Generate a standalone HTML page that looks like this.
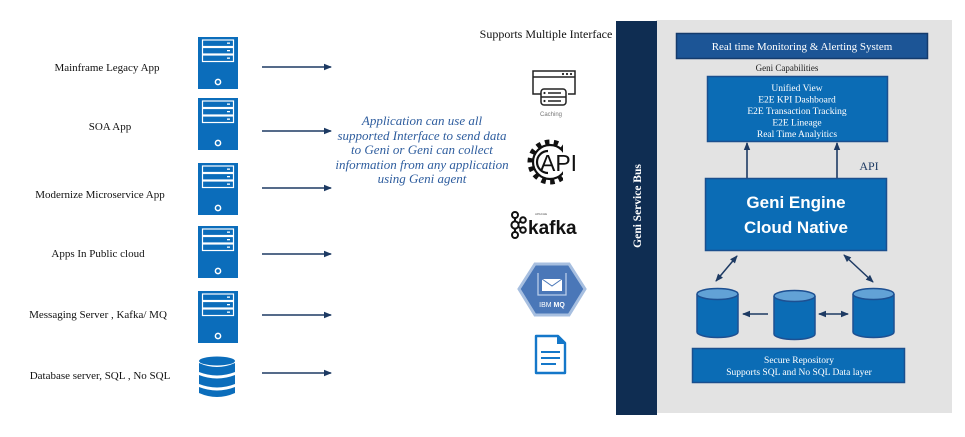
<!DOCTYPE html>
<html><head><meta charset="utf-8">
<style>
html,body{margin:0;padding:0;background:#fff;}
svg{display:block;}
</style></head>
<body>
<svg width="965" height="437" viewBox="0 0 965 437" xmlns="http://www.w3.org/2000/svg">
<defs>
<marker id="ah" markerWidth="8" markerHeight="8" refX="7" refY="4" orient="auto" markerUnits="userSpaceOnUse">
<path d="M0,0.8 L8,4 L0,7.2 z" fill="#1d3a63"/>
</marker>
<marker id="ahs" markerWidth="8" markerHeight="8" refX="7" refY="4" orient="auto-start-reverse" markerUnits="userSpaceOnUse">
<path d="M0,0.8 L8,4 L0,7.2 z" fill="#1d3a63"/>
</marker>
<g id="srv">
<rect x="0" y="0" width="40" height="52" fill="#0b6dbb"/>
<rect x="4.5" y="3" width="31" height="6.5" fill="none" stroke="#fff" stroke-width="1.2"/>
<rect x="4.5" y="10.5" width="31" height="6.5" fill="none" stroke="#fff" stroke-width="1.2"/>
<rect x="4.5" y="18" width="31" height="6.5" fill="none" stroke="#fff" stroke-width="1.2"/>
<rect x="29" y="5.5" width="3" height="1.3" fill="#fff"/>
<rect x="29" y="13" width="3" height="1.3" fill="#fff"/>
<rect x="29" y="20.5" width="3" height="1.3" fill="#fff"/>
<circle cx="20" cy="45" r="2.6" fill="none" stroke="#fff" stroke-width="1.5"/>
</g>
<g id="cyl">
<path d="M0,6 L0,44 A20.5,5.5 0 0 0 41,44 L41,6" fill="#0b6cb5" stroke="#1d5092" stroke-width="1.5"/>
<ellipse cx="20.5" cy="6" rx="20.5" ry="5.5" fill="#62a2d6" stroke="#1d5092" stroke-width="1.5"/>
</g>
</defs>

<!-- Left labels -->
<g font-family="Liberation Serif, serif" font-size="11" fill="#111" text-anchor="middle">
<text x="107" y="71">Mainframe Legacy App</text>
<text x="110" y="130">SOA App</text>
<text x="100" y="198">Modernize Microservice App</text>
<text x="98" y="257">Apps In Public cloud</text>
<text x="98" y="318">Messaging Server , Kafka/ MQ</text>
<text x="100" y="379">Database server, SQL , No SQL</text>
</g>

<!-- servers -->
<use href="#srv" x="198" y="37"/>
<use href="#srv" x="198" y="98"/>
<use href="#srv" x="198" y="163"/>
<use href="#srv" x="198" y="226"/>
<use href="#srv" x="198" y="291"/>

<!-- database icon -->
<g fill="#0b6dbb">
<ellipse cx="217" cy="361" rx="18" ry="4.5"/>
<path d="M199,363 Q217,371 235,363 L235,372 Q217,379 199,372 z"/>
<path d="M199,375 Q217,382 235,375 L235,384 Q217,391 199,384 z"/>
<path d="M199,387 Q217,394 235,387 L235,393 Q217,401 199,393 z"/>
</g>

<!-- left arrows -->
<g stroke="#1d3a63" stroke-width="1.5" marker-end="url(#ah)">
<line x1="262" y1="67" x2="331" y2="67"/>
<line x1="262" y1="131" x2="331" y2="131"/>
<line x1="262" y1="188" x2="331" y2="188"/>
<line x1="262" y1="254" x2="331" y2="254"/>
<line x1="262" y1="315" x2="331" y2="315"/>
<line x1="262" y1="373" x2="331" y2="373"/>
</g>

<!-- middle italic text -->
<g font-family="Liberation Serif, serif" font-style="italic" font-size="13" fill="#2e5d9e" text-anchor="middle">
<text x="422" y="125">Application can use all</text>
<text x="422" y="140">supported Interface to send data</text>
<text x="422" y="154">to Geni or Geni can collect</text>
<text x="422" y="169">information from any application</text>
<text x="422" y="183">using Geni agent</text>
</g>

<text x="546" y="38" font-family="Liberation Serif, serif" font-size="12" fill="#111" text-anchor="middle">Supports Multiple Interface</text>

<!-- caching icon -->
<g fill="none" stroke="#222" stroke-width="1.5">
<path d="M546,94 L533,94 L533,71 L575,71 L575,94 L568,94"/>
<line x1="533" y1="77" x2="575" y2="77"/>
<rect x="541" y="89" width="25" height="16" rx="3" fill="#fff"/>
<line x1="541" y1="97" x2="566" y2="97"/>
<line x1="548" y1="93" x2="561" y2="93"/>
<line x1="548" y1="101" x2="561" y2="101"/>
</g>
<circle cx="563" cy="74" r="1.1" fill="#222"/><circle cx="567" cy="74" r="1.1" fill="#222"/><circle cx="571" cy="74" r="1.1" fill="#222"/>
<circle cx="544.5" cy="93" r="1.1" fill="#222"/><circle cx="544.5" cy="101" r="1.1" fill="#222"/>
<text x="551" y="116" font-family="Liberation Sans, sans-serif" font-size="6" fill="#777" text-anchor="middle">Caching</text>

<!-- API gear -->
<g>
<circle cx="550" cy="162" r="20" fill="none" stroke="#111" stroke-width="5" stroke-dasharray="4.5 4.4"/>
<circle cx="550" cy="162" r="17" fill="#fff" stroke="#111" stroke-width="2.2"/>
<rect x="563" y="144" width="22" height="36" fill="#fff"/>
<path d="M548,151 A11,11 0 0 0 548,173" fill="none" stroke="#111" stroke-width="2.2"/>
<text x="540" y="171" font-family="Liberation Sans, sans-serif" font-size="23" fill="#111">API</text>
</g>

<!-- kafka -->
<g fill="none" stroke="#111" stroke-width="2">
<circle cx="515" cy="215" r="3"/><circle cx="515" cy="225" r="3.6"/><circle cx="515" cy="235" r="3"/>
<circle cx="523" cy="220" r="2.8"/><circle cx="523" cy="230" r="2.8"/>
<line x1="515" y1="218" x2="515" y2="221.5"/><line x1="515" y1="228.5" x2="515" y2="232"/>
<line x1="518" y1="223.5" x2="520.5" y2="221.5"/><line x1="518" y1="226.5" x2="520.5" y2="228.5"/>
</g>
<text x="528" y="234" font-family="Liberation Sans, sans-serif" font-weight="bold" font-size="19" fill="#111">kafka</text>
<text x="535" y="215" font-family="Liberation Sans, sans-serif" font-size="3" fill="#555">APACHE</text>

<!-- IBM MQ -->
<polygon points="535,264 569,264 585,289 569,315 535,315 519,289" fill="#4a77b8" stroke="#a7bfe0" stroke-width="3"/>
<path d="M538,273 L538,295 L566,295 L566,273" fill="none" stroke="#b8cdea" stroke-width="1.3"/>
<rect x="542" y="279" width="20" height="12" fill="#fff"/>
<path d="M542,279 L552,286 L562,279" fill="none" stroke="#4a77b8" stroke-width="1"/>
<text x="552" y="307" font-family="Liberation Sans, sans-serif" font-size="7" fill="#fff" text-anchor="middle">IBM <tspan font-weight="bold">MQ</tspan></text>

<!-- document -->
<path d="M536,336 L558,336 L565,343 L565,373 L536,373 z" fill="#fff" stroke="#1477c9" stroke-width="2.4" stroke-linejoin="round"/>
<path d="M557,336 L557,344 L565,344" fill="#1477c9"/>
<line x1="541" y1="352" x2="560" y2="352" stroke="#1477c9" stroke-width="2"/>
<line x1="541" y1="358" x2="560" y2="358" stroke="#1477c9" stroke-width="2"/>
<line x1="541" y1="364" x2="556" y2="364" stroke="#1477c9" stroke-width="2"/>

<!-- grey panel -->
<rect x="656" y="20" width="296" height="393" fill="#e3e3e3"/>
<!-- service bus -->
<rect x="616" y="21" width="41" height="394" fill="#0f2d52"/>
<text transform="translate(641,206) rotate(-90)" font-family="Liberation Serif, serif" font-weight="bold" font-size="11.5" fill="#fff" text-anchor="middle">Geni Service Bus</text>

<!-- monitoring -->
<rect x="676.5" y="33.5" width="251" height="25" fill="#1c5596" stroke="#143b6c" stroke-width="1.5"/>
<text x="802" y="50" font-family="Liberation Serif, serif" font-size="11" fill="#fff" text-anchor="middle">Real time Monitoring &amp; Alerting System</text>

<text x="787" y="71" font-family="Liberation Serif, serif" font-size="9" fill="#222" text-anchor="middle">Geni Capabilities</text>

<rect x="707.5" y="76.5" width="180" height="65" fill="#0b6cb5" stroke="#1a4f8e" stroke-width="1.5"/>
<g font-family="Liberation Serif, serif" font-size="9.5" fill="#fff" text-anchor="middle">
<text x="797" y="91">Unified View</text>
<text x="797" y="102.5">E2E KPI Dashboard</text>
<text x="797" y="114">E2E Transaction Tracking</text>
<text x="797" y="125.5">E2E Lineage</text>
<text x="797" y="137">Real Time Analyitics</text>
</g>

<!-- up arrows -->
<g stroke="#1d3a63" stroke-width="1.6" marker-end="url(#ah)">
<line x1="747" y1="178" x2="747" y2="143"/>
<line x1="837" y1="178" x2="837" y2="143"/>
</g>
<text x="869" y="170" font-family="Liberation Serif, serif" font-size="12" fill="#1d3a63" text-anchor="middle">API</text>

<!-- engine -->
<rect x="705.5" y="178.5" width="181" height="72" fill="#0b6cb5" stroke="#1a4f8e" stroke-width="1.5"/>
<g font-family="Liberation Sans, sans-serif" font-weight="bold" font-size="17" fill="#fff" text-anchor="middle">
<text x="796" y="208">Geni Engine</text>
<text x="796" y="233">Cloud Native</text>
</g>

<!-- diagonal arrows -->
<g stroke="#1d3a63" stroke-width="1.5">
<line x1="716" y1="281" x2="737" y2="256" marker-start="url(#ahs)" marker-end="url(#ah)"/>
<line x1="844" y1="255" x2="873" y2="282" marker-start="url(#ahs)" marker-end="url(#ah)"/>
<line x1="768" y1="314" x2="743" y2="314" marker-end="url(#ah)"/>
<line x1="819" y1="314" x2="848" y2="314" marker-start="url(#ahs)" marker-end="url(#ah)"/>
</g>

<!-- cylinders -->
<use href="#cyl" x="697" y="288"/>
<use href="#cyl" x="774" y="290"/>
<use href="#cyl" x="853" y="288"/>

<!-- secure repo -->
<rect x="692.5" y="348.5" width="212" height="34" fill="#0b6cb5" stroke="#1a4f8e" stroke-width="1.5"/>
<g font-family="Liberation Serif, serif" font-size="9.5" fill="#fff" text-anchor="middle">
<text x="799" y="363">Secure Repository</text>
<text x="799" y="375">Supports SQL and No SQL Data layer</text>
</g>
</svg>
</body></html>
